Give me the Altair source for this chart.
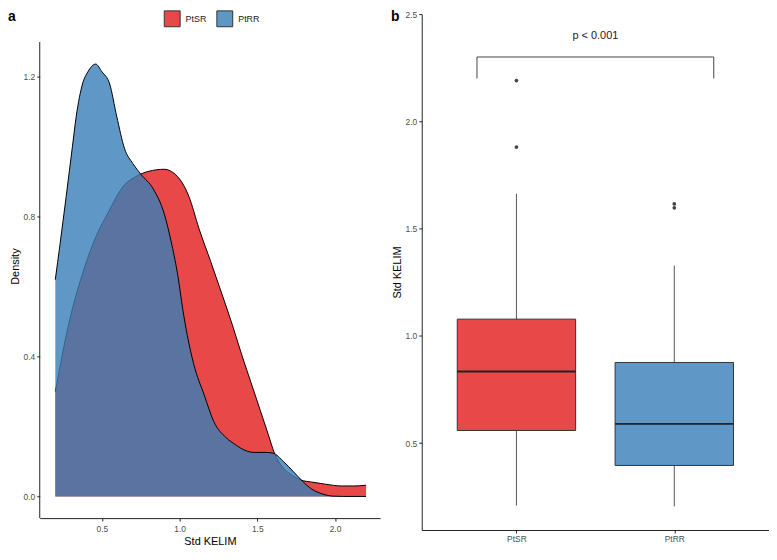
import altair as alt
import pandas as pd

# ---------------- data ----------------
groups = ["PtSR", "PtRR"]
group_colors = ["#E41A1C", "#377EB8"]

# density curve of PtSR
sr_x = [0.20, 0.29, 0.375, 0.44, 0.54, 0.635, 0.73, 0.80, 0.90, 1.00, 1.06, 1.125,
        1.20, 1.27, 1.34, 1.40, 1.46, 1.52, 1.57, 1.61, 1.66, 1.72, 1.78, 1.85,
        1.94, 2.04, 2.12, 2.20]
sr_y = [0.30, 0.50, 0.637, 0.72, 0.812, 0.886, 0.918, 0.930, 0.936, 0.908, 0.858, 0.766,
        0.672, 0.582, 0.49, 0.405, 0.325, 0.245, 0.178, 0.124, 0.085, 0.062, 0.047, 0.041,
        0.035, 0.030, 0.030, 0.032]

# density curve of PtRR
rr_x = [0.20, 0.23, 0.27, 0.31, 0.335, 0.375, 0.41, 0.46, 0.50, 0.55, 0.595, 0.645,
        0.70, 0.75, 0.83, 0.90, 0.95, 0.99, 1.02, 1.05, 1.09, 1.16, 1.22, 1.30,
        1.36, 1.42, 1.48, 1.55, 1.60, 1.67, 1.73, 1.79, 1.85, 1.92, 1.98, 2.05, 2.20]
rr_y = [0.62, 0.72, 0.858, 1.00, 1.088, 1.18, 1.215, 1.237, 1.215, 1.18, 1.088, 0.996,
        0.952, 0.922, 0.88, 0.81, 0.72, 0.628, 0.536, 0.46, 0.38, 0.288, 0.214, 0.168,
        0.148, 0.132, 0.126, 0.126, 0.124, 0.099, 0.072, 0.044, 0.021, 0.007, 0.001, 0.0, 0.0]

# box plot statistics
box_group = ["PtSR", "PtRR"]
box_pos = [1, 2]
box_lo = [0.209, 0.205]
box_q1 = [0.559, 0.396]
box_med = [0.834, 0.590]
box_q3 = [1.078, 0.876]
box_hi = [1.662, 1.327]

out_pos = [1, 1, 2, 2]
out_val = [2.19, 1.88, 1.615, 1.597]

bracket_ends = [0.75, 2.25]
bracket_lo = 2.20
bracket_hi = 2.30
p_label = "p < 0.001"
p_pos = 1.5
p_y = 2.40

# axis extents
left_x_dom = [0.1, 2.29]
left_y_axis = [-0.062, 1.30]   # visible extent of the y axis line
left_y_dom = [-0.062, 1.380]   # plot area extends above the axis line
right_x_dom = [0.4, 2.6]
right_y_dom = [0.095, 2.5]

# ---------------- tables ----------------
dens = pd.DataFrame({
    "x": sr_x + rr_x,
    "y": sr_y + rr_y,
    "group": ["PtSR"] * len(sr_x) + ["PtRR"] * len(rr_x),
})
boxes = pd.DataFrame({
    "group": box_group, "pos": box_pos, "lo": box_lo, "q1": box_q1,
    "med": box_med, "q3": box_q3, "hi": box_hi, "col": group_colors,
})
outs = pd.DataFrame({"pos": out_pos, "val": out_val})
br_v = pd.DataFrame({"x": bracket_ends, "y1": [bracket_lo] * 2, "y2": [bracket_hi] * 2})
br_h = pd.DataFrame({"x1": [bracket_ends[0]], "x2": [bracket_ends[1]], "y": [bracket_hi]})
ptxt = pd.DataFrame({"x": [p_pos], "y": [p_y], "t": [p_label]})
yline = pd.DataFrame({"x": [left_x_dom[0]], "y1": [left_y_axis[0]], "y2": [left_y_axis[1]]})

FONT = "Liberation Sans"

# ---------------- left panel: densities ----------------
color_scale = alt.Scale(domain=groups, range=group_colors)
xs_l = alt.Scale(domain=left_x_dom, nice=False, zero=False)
ys_l = alt.Scale(domain=left_y_dom, nice=False, zero=False)
xL = alt.X("x:Q", scale=xs_l,
           axis=alt.Axis(values=[0.5, 1.0, 1.5, 2.0], format=".1f", title="Std KELIM", labelPadding=3))
yL = alt.Y("y:Q", stack=None, scale=ys_l,
           axis=alt.Axis(values=[0.0, 0.4, 0.8, 1.2], format=".1f", title="Density", domain=False))

legend = alt.Legend(orient="none", legendX=125, legendY=-4, direction="horizontal",
                    symbolType="square", symbolSize=256, symbolStrokeColor="black",
                    symbolStrokeWidth=1, symbolOpacity=0.8, labelFontSize=9,
                    labelColor="#222", labelOffset=5, columnPadding=7, padding=0)

base_l = alt.Chart(dens)
layers = []
for g in groups:
    area = base_l.transform_filter(alt.datum.group == g).mark_area(
        interpolate="monotone", fillOpacity=0.8
    ).encode(x=xL, y=yL, y2=alt.Y2Datum(0),
             color=alt.Color("group:N", scale=color_scale, legend=legend, title=None))
    line = base_l.transform_filter(alt.datum.group == g).mark_line(
        interpolate="monotone", color="black", strokeWidth=1
    ).encode(x=xL, y=yL)
    layers += [area, line]

axis_line = alt.Chart(yline).mark_rule(color="#222", strokeWidth=1).encode(
    x=alt.X("x:Q", scale=xs_l), y=alt.Y("y1:Q", scale=ys_l), y2="y2:Q")

lab_a = alt.Chart(pd.DataFrame({"t": ["a"]})).mark_text(
    fontSize=14, fontWeight="bold", align="left", baseline="top", color="black"
).encode(text="t:N", x=alt.value(-32), y=alt.value(-4))

left = alt.layer(*layers, axis_line, lab_a).properties(width=343, height=508)

# ---------------- right panel: box plot ----------------
xs_r = alt.Scale(domain=right_x_dom, nice=False, zero=False)
ys_r = alt.Scale(domain=right_y_dom, nice=False, zero=False)
xaxis_r = alt.Axis(values=[1, 2], labelExpr="datum.value == 1 ? 'PtSR' : 'PtRR'", title=None)
yaxis_r = alt.Axis(values=[0.5, 1.0, 1.5, 2.0, 2.5], format=".1f", title="Std KELIM")

bb = alt.Chart(boxes).transform_calculate(
    x1="datum.pos - 0.375", x2="datum.pos + 0.375"
)
whisk_hi = bb.mark_rule(color="#555", strokeWidth=1).encode(
    x=alt.X("pos:Q", scale=xs_r, axis=xaxis_r),
    y=alt.Y("q3:Q", scale=ys_r, axis=yaxis_r), y2="hi:Q")
whisk_lo = bb.mark_rule(color="#555", strokeWidth=1).encode(
    x=alt.X("pos:Q", scale=xs_r), y=alt.Y("lo:Q", scale=ys_r), y2="q1:Q")
rect = bb.mark_rect(stroke="#333", strokeWidth=1, fillOpacity=0.8).encode(
    x=alt.X("x1:Q", scale=xs_r), x2="x2:Q",
    y=alt.Y("q1:Q", scale=ys_r), y2="q3:Q",
    fill=alt.Fill("col:N", scale=None))
med = bb.mark_rule(color="#222", strokeWidth=1.8).encode(
    x=alt.X("x1:Q", scale=xs_r), x2="x2:Q", y=alt.Y("med:Q", scale=ys_r))
pts = alt.Chart(outs).mark_circle(size=14, color="#444", opacity=1).encode(
    x=alt.X("pos:Q", scale=xs_r), y=alt.Y("val:Q", scale=ys_r))
bv = alt.Chart(br_v).mark_rule(color="#444", strokeWidth=1).encode(
    x=alt.X("x:Q", scale=xs_r), y=alt.Y("y1:Q", scale=ys_r), y2="y2:Q")
bh = alt.Chart(br_h).mark_rule(color="#444", strokeWidth=1).encode(
    x=alt.X("x1:Q", scale=xs_r), x2="x2:Q", y=alt.Y("y:Q", scale=ys_r))
pt = alt.Chart(ptxt).mark_text(fontSize=11, color="#222").encode(
    x=alt.X("x:Q", scale=xs_r), y=alt.Y("y:Q", scale=ys_r), text="t:N")
lab_b = alt.Chart(pd.DataFrame({"t": ["b"]})).mark_text(
    fontSize=14, fontWeight="bold", align="left", baseline="top", color="black"
).encode(text="t:N", x=alt.value(-31), y=alt.value(-4))

right = alt.layer(whisk_hi, whisk_lo, rect, med, pts, bv, bh, pt, lab_b).properties(
    width=350, height=520)

chart = alt.hconcat(left, right, spacing=11).resolve_legend(
    color="independent"
).properties(padding=0).configure(font=FONT).configure_view(
    stroke=None
).configure_axis(
    grid=False, domainColor="#222", domainWidth=1, tickColor="#222", tickSize=3,
    labelColor="#4d4d4d", labelFontSize=8.5, labelPadding=2, labelFont=FONT,
    titleFont=FONT, titleFontSize=11, titleColor="#000", titleFontWeight="normal",
    titlePadding=3
).configure_legend(labelFont=FONT)

chart.save("out.html", embed_options={"renderer": "svg", "actions": False})
